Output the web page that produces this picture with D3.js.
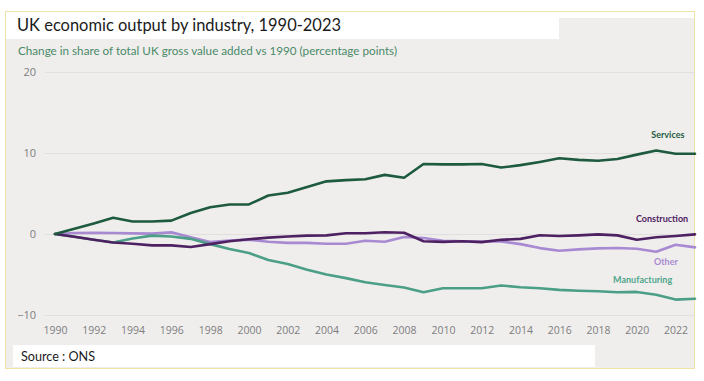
<!DOCTYPE html>
<html><head><meta charset="utf-8">
<script src="https://cdn.jsdelivr.net/npm/d3@7"></script>
<style>html,body{margin:0;padding:0;background:#fff;}svg{display:block;}</style>
</head><body>
<svg id="chart" width="704" height="381"></svg>
<script>
const years = d3.range(1990, 2024);
const services = [0,0.65,1.3,2.0,1.55,1.55,1.65,2.6,3.3,3.65,3.65,4.75,5.1,5.8,6.5,6.65,6.75,7.3,6.95,8.65,8.6,8.6,8.65,8.2,8.5,8.9,9.35,9.15,9.05,9.25,9.8,10.3,9.9,9.9];
const construction = [0,-0.35,-0.7,-1.05,-1.2,-1.4,-1.4,-1.6,-1.25,-0.9,-0.65,-0.45,-0.3,-0.2,-0.17,0.1,0.1,0.22,0.15,-0.9,-0.97,-0.9,-1.0,-0.72,-0.6,-0.15,-0.25,-0.17,-0.05,-0.17,-0.7,-0.4,-0.25,-0.05];
const other = [0,0.12,0.15,0.12,0.08,0.05,0.2,-0.4,-1.0,-0.8,-0.7,-0.95,-1.1,-1.1,-1.2,-1.2,-0.83,-0.95,-0.37,-0.5,-0.85,-0.9,-0.92,-0.92,-1.25,-1.74,-2.07,-1.9,-1.78,-1.72,-1.82,-2.2,-1.32,-1.65];
const manufacturing = [0,-0.35,-0.7,-1.05,-0.55,-0.2,-0.3,-0.6,-1.25,-1.85,-2.35,-3.2,-3.7,-4.4,-5.0,-5.45,-5.95,-6.3,-6.6,-7.2,-6.7,-6.7,-6.7,-6.36,-6.57,-6.7,-6.9,-7.0,-7.07,-7.2,-7.15,-7.5,-8.1,-8.0];
const yTicks = [-10, 0, 10, 20];
const xTicks = d3.range(1990, 2023, 2);
const seriesNames = ["Other","Manufacturing","Construction","Services"];
const seriesValues = [other, manufacturing, construction, services];
const seriesColors = ["#a88ad2","#4c9f87","#4e2262","#1d5a3e"];
const labelColors = ["#a88ad2","#4fa68b","#4e2262","#1d5a3e"];
const labelYears = [2021.5, 2020.3, 2021.3, 2021.6];
const labelValues = [-3.6, -5.8, 1.8, 12.1];

const svg = d3.select("#chart");

// frame & backgrounds
svg.append("rect").attr("x",6).attr("y",18).attr("width",688).attr("height",350).attr("fill","#efeeed");
svg.append("rect").attr("x",6).attr("y",12).attr("width",553).attr("height",27).attr("fill","#ffffff");
svg.append("rect").attr("x",5.5).attr("y",11.5).attr("width",689).attr("height",357)
  .attr("fill","none").attr("stroke","#efe2a6").attr("stroke-width",1);

const x = d3.scaleLinear().domain([1990, 2023]).range([55, 695]);
const y = d3.scaleLinear().domain([-10, 20]).range([315, 72]);

// y grid + labels
const yAxis = d3.axisLeft(y).tickValues(yTicks).tickSize(-(695-45)).tickFormat(d3.format("d"));
const gy = svg.append("g").attr("transform","translate(45,0)").call(yAxis);
gy.select(".domain").remove();
gy.selectAll("line").attr("stroke","#e0dfde").attr("stroke-width",1);
gy.selectAll("text").attr("x",-9).attr("fill","#7d7d7d")
  .style("font-family","'Open Sans', sans-serif").style("font-size","11px");

// x labels
const xAxis = d3.axisBottom(x).tickValues(xTicks).tickSize(0).tickFormat(d3.format("d"));
const gx = svg.append("g").attr("transform","translate(0,324)").call(xAxis);
gx.select(".domain").remove();
gx.selectAll("text").attr("fill","#7d7d7d")
  .style("font-family","'Open Sans', sans-serif").style("font-size","10.5px");

// lines
const line = d3.line().x((d,i)=>x(years[i])).y(d=>y(d));
seriesValues.forEach((vals, k) => {
  svg.append("path").datum(vals).attr("d", line)
    .attr("fill","none").attr("stroke",seriesColors[k]).attr("stroke-width",2.6)
    .attr("stroke-linejoin","round").attr("stroke-linecap","round");
});

// labels
seriesNames.forEach((name, k) => {
  svg.append("text").attr("x", x(labelYears[k])).attr("y", y(labelValues[k]))
    .attr("text-anchor","middle").attr("dominant-baseline","middle")
    .attr("fill", labelColors[k]).style("font-family","Lato, sans-serif")
    .style("font-weight","bold").style("font-size","9px").text(name);
});

// title
svg.append("text").attr("x",17).attr("y",31).attr("textLength",324).attr("lengthAdjust","spacingAndGlyphs")
  .attr("fill","#1a1a1a").style("font-family","Lato, sans-serif").style("font-size","17px")
  .text("UK economic output by industry, 1990-2023");
svg.append("text").attr("x",18).attr("y",55).attr("textLength",379).attr("lengthAdjust","spacingAndGlyphs")
  .attr("fill","#4a8a68").style("font-family","Lato, sans-serif").style("font-size","12px")
  .text("Change in share of total UK gross value added vs 1990 (percentage points)");

// source box
svg.append("rect").attr("x",13).attr("y",345).attr("width",582).attr("height",22).attr("fill","#ffffff");
svg.append("text").attr("x",21).attr("y",361).attr("textLength",74).attr("lengthAdjust","spacingAndGlyphs")
  .attr("fill","#1a1a1a").style("font-family","Lato, sans-serif").style("font-size","13px")
  .text("Source : ONS");
</script>
</body></html>
